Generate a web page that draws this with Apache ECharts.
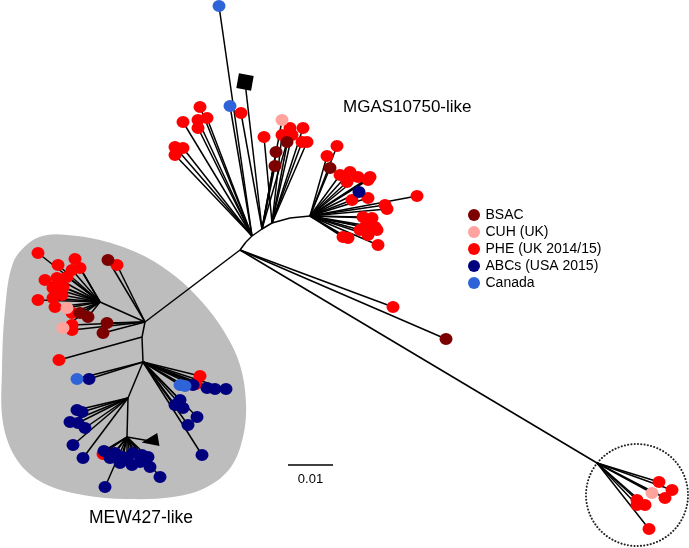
<!DOCTYPE html>
<html><head><meta charset="utf-8">
<script src="https://cdn.jsdelivr.net/npm/echarts@6/dist/echarts.min.js"></script>
<style>html,body{margin:0;padding:0;background:#fff}#c{width:689px;height:548px}</style>
</head><body><div id="c"></div>
<script>
// ---- data (tree layout units) ----
const categories = ['BSAC', 'CUH (UK)', 'PHE (UK 2014/15)', 'ABCs (USA 2015)', 'Canada'];
const nodes = {
  R: [240, 250], Rb: [246, 242], M0: [252, 236], Ma: [262, 229], M1: [272, 223], Mb: [290, 218], M2: [310, 216],
  E0: [145, 322], E1: [100, 302], E2: [142, 337], E3: [143, 362], E4: [128, 398], E5: [127, 437], F: [597, 463]
};
const backbone = [['R','Rb'],['Rb','M0'],['M0','Ma'],['Ma','M1'],['M1','Mb'],['Mb','M2'],
  ['R','E0'],['E0','E1'],['E0','E2'],['E2','E3'],['E3','E4'],['E4','E5'],['R','F']];

const bsacTips = [[287,142,'Ma'],[276,152,'Ma'],[275,166,'Ma'],[330,168,'M2'],[446,339,'R'],
  [108,260,'E0'],[80,313,'E1'],[88,317,'E1'],[107,323,'E0'],[103,333,'E0']];
const cuhTips = [[282,120,'Ma'],[67,308,'E1'],[63,328,'E1'],[652,493,'F']];
const pheTips = [
  [200,107,'M0'],[183,122,'M0'],[198,120,'M0'],[207,118,'M0'],[198,128,'M0'],[175,147,'M0'],[183,148,'M0'],[175,155,'M0'],
  [241,113,'Ma'],
  [264,137,'M1'],[290,128,'M1'],[303,128,'M1'],[282,135,'M1'],[292,135,'M1'],[302,142,'M1'],[307,142,'M1'],
  [337,146,'M2'],[327,156,'M2'],[340,175,'M2'],[350,172,'M2'],[347,182,'M2'],[358,177,'M2'],[370,177,'M2'],[368,180,'M2'],
  [368,198,'M2'],[352,200,'M2'],[417,196,'M2'],[385,205,'M2'],[387,209,'M2'],[363,217,'M2'],[372,218,'M2'],[365,227,'M2'],
  [375,227,'M2'],[360,230,'M2'],[368,235,'M2'],[377,230,'M2'],[343,237,'M2'],[348,238,'M2'],[378,245,'M2'],
  [393,307,'R'],
  [38,253,'E1'],[58,265,'E1'],[75,259,'E1'],[72,270,'E1'],[80,268,'E1'],[45,280,'E1'],[57,278,'E1'],[67,277,'E1'],
  [53,288,'E1'],[63,287,'E1'],[38,300,'E1'],[53,298,'E1'],[62,295,'E1'],[55,307,'E1'],[72,313,'E1'],
  [117,265,'E0'],[72,325,'E0'],[72,330,'E0'],[59,360,'E2'],[200,376,'E3'],[196,384,'E3'],[103,454,'E5'],
  [659,482,'F'],[672,490,'F'],[665,498,'F'],[637,500,'F'],[645,505,'F'],[637,505,'F'],[649,529,'F']
];
const abcsTips = [[359,192,'M2'],
  [89,379,'E3'],[193,385,'E3'],[207,388,'E3'],[215,389,'E3'],[226,389,'E3'],[180,400,'E3'],[175,405,'E3'],[183,408,'E3'],
  [197,417,'E3'],[188,425,'E3'],[202,455,'E3'],
  [77,410,'E4'],[82,412,'E4'],[70,422,'E4'],[78,423,'E4'],[85,428,'E4'],[73,445,'E4'],[83,458,'E4'],
  [104,451,'E5'],[115,453,'E5'],[123,457,'E5'],[133,453,'E5'],[142,455,'E5'],[148,457,'E5'],[120,463,'E5'],[132,465,'E5'],
  [150,467,'E5'],[160,477,'E5'],[105,487,'E5'],[110,458,'E5'],[127,460,'E5'],[140,462,'E5']];
const canadaTips = [[219,6,'M0'],[230,106,'M0'],[77,379,'E3'],[180,385,'E3'],[185,386,'E3']];
const referenceSquare = [[245,82,'Ma']];
const referenceTriangle = [[150,441,'E5']];

const mewOutline = [[67,235],[100,240],[140,254],[175,276],[203,303],[225,333],[240,365],[246,403],[243,437],[231,467],
  [207,487],[173,497],[127,499],[83,495],[43,483],[17,460],[3,423],[2,370],[5,310],[13,263],[30,242],[47,235]];
const outlierCircle = [[637,495,51]];
const scaleBar = {label: '0.01', from: [288,465], to: [333,465]};

// ---- build ----
const colors = {'BSAC':'#7d0000','CUH (UK)':'#ffa39c','PHE (UK 2014/15)':'#ff0000','ABCs (USA 2015)':'#00007f','Canada':'#2f64d8'};
const tipSets = {'BSAC':bsacTips,'CUH (UK)':cuhTips,'PHE (UK 2014/15)':pheTips,'ABCs (USA 2015)':abcsTips,'Canada':canadaTips};
const edges = backbone.map(([a,b]) => [...nodes[a], ...nodes[b]]);
[bsacTips,cuhTips,pheTips,abcsTips,canadaTips,referenceSquare,referenceTriangle].forEach(set =>
  set.forEach(t => edges.push([...nodes[t[2]], t[0], t[1]])));

const FONT = 'Liberation Sans, Arial, sans-serif';
const chart = echarts.init(document.getElementById('c'), null, {renderer:'canvas'});
const drawOrder = ['PHE (UK 2014/15)','BSAC','CUH (UK)','ABCs (USA 2015)','Canada'];
const scatterSeries = drawOrder.map(name => ({
  type:'scatter', name, data: tipSets[name].map(t => [t[0], t[1]]),
  symbol:'circle', symbolSize:[13,12], itemStyle:{color:colors[name], opacity:1}, z:5, silent:true
}));

chart.setOption({
  animation:false,
  backgroundColor:'#fff',
  grid:{left:0,right:0,top:0,bottom:0},
  xAxis:{type:'value',min:0,max:689,show:false},
  yAxis:{type:'value',min:0,max:548,inverse:true,show:false},
  legend:{
    data: categories.map(n => ({name:n, icon:'circle'})),
    orient:'vertical', left:463, top:203, itemWidth:13, itemHeight:12, itemGap:3,
    textStyle:{fontSize:14, color:'#000', fontFamily:FONT}, selectedMode:false
  },
  series:[
    {type:'custom', z:0, silent:true, data:[0],
     renderItem:(p, api) => ({type:'polygon', shape:{points: mewOutline.map(q => api.coord(q)), smooth:0.35},
       style:{fill:'#bdbdbd', stroke:null}})},
    {type:'custom', z:1, silent:true, data:outlierCircle, encode:{x:0,y:1},
     renderItem:(p, api) => { const c = api.coord([api.value(0), api.value(1)]);
       const r = api.size([api.value(2), 0])[0];
       return {type:'circle', shape:{cx:c[0], cy:c[1], r}, style:{fill:null, stroke:'#222', lineWidth:2, lineDash:[0.1,3.2], lineCap:'round'}}; }},
    {type:'custom', z:2, silent:true, data:edges, encode:{x:[0,2], y:[1,3]},
     renderItem:(p, api) => { const a = api.coord([api.value(0), api.value(1)]); const b = api.coord([api.value(2), api.value(3)]);
       return {type:'line', shape:{x1:a[0],y1:a[1],x2:b[0],y2:b[1]}, style:{stroke:'#000', lineWidth:1.5}}; }},
    ...scatterSeries,
    {type:'scatter', data:referenceSquare.map(t => [t[0],t[1]]), symbol:'rect', symbolSize:15, symbolRotate:-10, itemStyle:{color:'#000', opacity:1}, z:7, silent:true},
    {type:'scatter', data:referenceTriangle.map(t => [t[0],t[1]]), symbol:'triangle', symbolSize:[13,17], symbolRotate:100, itemStyle:{color:'#000', opacity:1}, z:7, silent:true},
    {type:'custom', z:3, silent:true, data:[0],
     renderItem:(p, api) => { const a = api.coord(scaleBar.from), b = api.coord(scaleBar.to);
       return {type:'group', children:[
         {type:'line', shape:{x1:a[0],y1:a[1],x2:b[0],y2:b[1]}, style:{stroke:'#000', lineWidth:1.3}},
         {type:'text', style:{text:scaleBar.label, x:(a[0]+b[0])/2, y:a[1]+14, align:'center', verticalAlign:'middle', fontSize:13, fontFamily:FONT, fill:'#000'}}
       ]}; }}
  ],
  graphic:[
    {type:'text', left:343, top:99, style:{text:'MGAS10750-like', fontSize:17, fontFamily:FONT, fill:'#000'}},
    {type:'text', left:89, top:509, style:{text:'MEW427-like', fontSize:17.5, fontFamily:FONT, fill:'#000'}}
  ]
});
</script></body></html>
